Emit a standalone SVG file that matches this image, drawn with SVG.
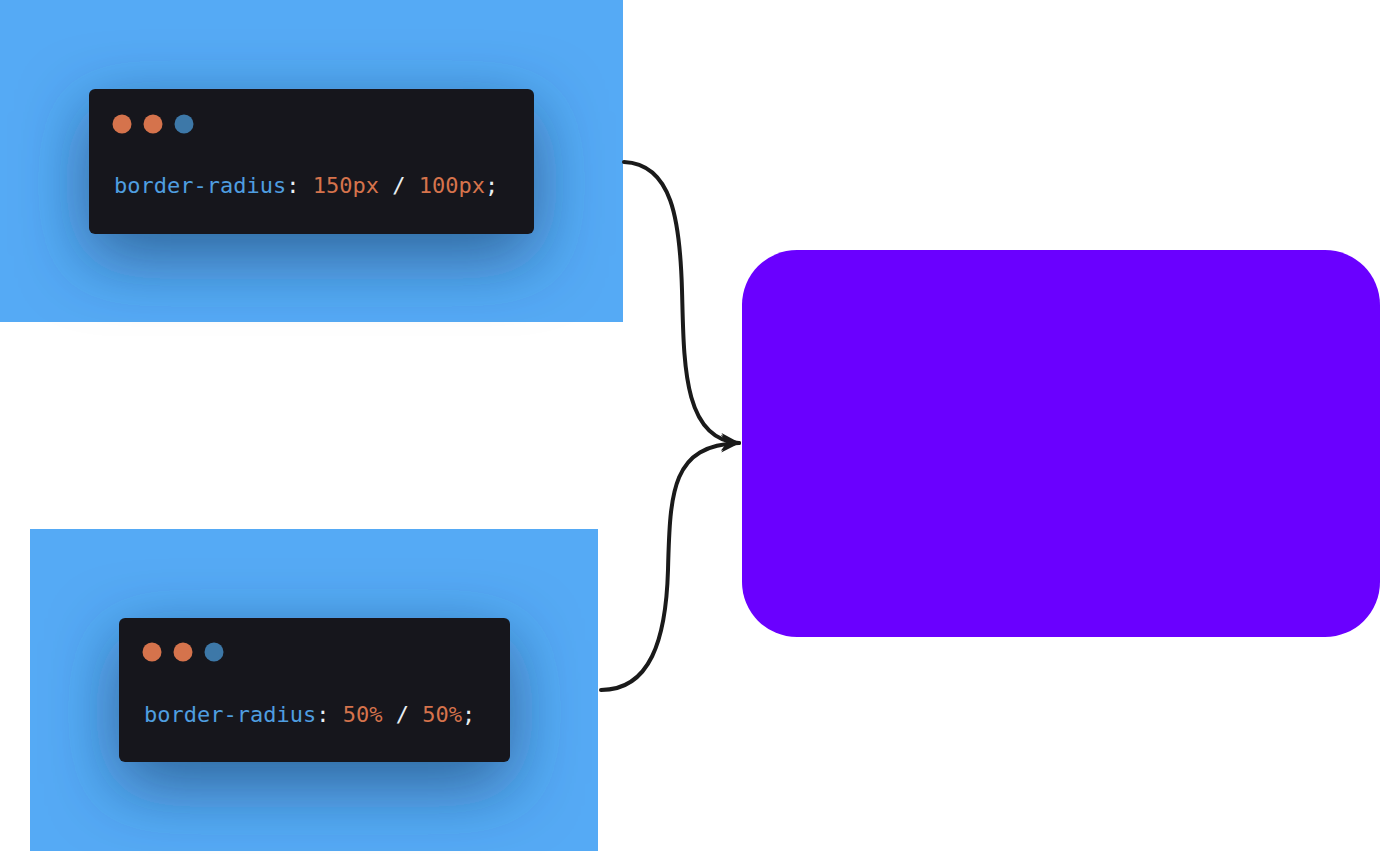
<svg xmlns="http://www.w3.org/2000/svg" width="1400" height="854" viewBox="0 0 1400 854">
<style>
.panel{fill:#55aaf5}
.card{fill:#17181b}
.code{font-family:"DejaVu Sans Mono","Liberation Mono",monospace;font-size:22px}
.k{fill:#4f9ee0}
.v{fill:#d5734c}
.p{fill:#e8eef2}
.dot-o{fill:#d5734c}
.dot-b{fill:#3d78a8}
.conn{fill:none;stroke:#1a1a1a;stroke-width:4;stroke-linecap:round}
</style>
<defs>
<filter id="sh" x="-40%" y="-60%" width="180%" height="230%">
<feDropShadow dx="0" dy="22" stdDeviation="34" flood-color="#1d3f66" flood-opacity="0.65"/>
</filter>
<marker id="arr" markerWidth="22" markerHeight="20" refX="18" refY="10" orient="auto" markerUnits="userSpaceOnUse">
<path d="M0,1 L19,10 L0,19 L6,10 Z" fill="#1a1a1a"/>
</marker>
</defs>
<rect width="1400" height="854" fill="#ffffff"/>
<g id="snippet1">
<rect class="panel" x="0" y="0" width="623" height="322"/>
<rect class="card" x="89" y="89" width="445" height="145" rx="6" filter="url(#sh)"/>
<circle class="dot-o" cx="122" cy="124" r="9.5"/>
<circle class="dot-o" cx="153" cy="124" r="9.5"/>
<circle class="dot-b" cx="184" cy="124" r="9.5"/>
<text class="code" x="114" y="193" xml:space="preserve"><tspan class="k">border-radius</tspan><tspan class="p">: </tspan><tspan class="v">150px</tspan><tspan class="p"> / </tspan><tspan class="v">100px</tspan><tspan class="p">;</tspan></text>
</g>
<g id="snippet2">
<rect class="panel" x="30" y="529" width="568" height="322"/>
<rect class="card" x="119" y="618" width="391" height="144" rx="6" filter="url(#sh)"/>
<circle class="dot-o" cx="152" cy="652" r="9.5"/>
<circle class="dot-o" cx="183" cy="652" r="9.5"/>
<circle class="dot-b" cx="214" cy="652" r="9.5"/>
<text class="code" x="144" y="722" xml:space="preserve"><tspan class="k">border-radius</tspan><tspan class="p">: </tspan><tspan class="v">50%</tspan><tspan class="p"> / </tspan><tspan class="v">50%</tspan><tspan class="p">;</tspan></text>
</g>
<g id="result">
<rect x="742" y="250" width="638" height="387" rx="55" fill="#6a00ff"/>
</g>
<g id="connectors">
<path class="conn" d="M624,162 C672,164 680,220 682,290 C684,360 682,440 739,443" marker-end="url(#arr)"/>
<path class="conn" d="M601,690 C650,690 666,640 668,570 C670,490 672,445 739,443" marker-end="url(#arr)"/>
</g>
</svg>
